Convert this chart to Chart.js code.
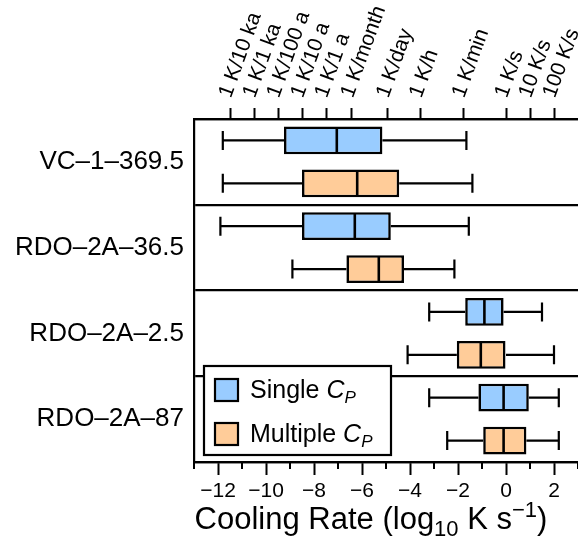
<!DOCTYPE html>
<html lang="en">
<head>
  <meta charset="UTF-8" />
  <title>Cooling Rate Box Plot</title>
  <script src="https://cdn.jsdelivr.net/npm/chart.js@4.4.0/dist/chart.umd.min.js"></script>
  <style>
    html, body { margin: 0; padding: 0; background: #fff; }
    #wrap { width: 578px; height: 558px; }
  </style>
</head>
<body>
  <div id="wrap"><canvas id="coolingChart"></canvas></div>
  <script>
    const FONT = 'Helvetica, "Liberation Sans", Arial, sans-serif';

    // samples (top to bottom)
    const categories = ['VC–1–369.5', 'RDO–2A–36.5', 'RDO–2A–2.5', 'RDO–2A–87'];

    // single Cp fits: whisker ends, quartiles, median (log10 K/s)
    const singleMin = [-11.8, -11.9, -3.2, -3.2];
    const singleQ1 = [-9.25, -8.5, -1.7, -1.15];
    const singleMed = [-7.05, -6.3, -0.9, -0.1];
    const singleQ3 = [-5.15, -4.8, -0.1, 0.95];
    const singleMax = [-1.65, -1.55, 1.5, 2.2];

    // multiple Cp fits
    const multiMin = [-11.8, -8.9, -4.1, -2.45];
    const multiQ1 = [-8.5, -6.65, -2.05, -0.95];
    const multiMed = [-6.2, -5.3, -1.05, -0.1];
    const multiQ3 = [-4.45, -4.25, 0, 0.85];
    const multiMax = [-1.4, -2.15, 2.0, 2.2];

    // axes
    const xMin = -13, xMax = 3;
    const bottomTicks = [-12, -10, -8, -6, -4, -2, 0, 2];
    const topTickValues = [-11.5, -10.5, -9.5, -8.5, -7.5, -6.42, -4.94, -3.56, -1.78, 0, 1, 2];
    const topTickLabels = ['1 K/10 ka', '1 K/1 ka', '1 K/100 a', '1 K/10 a', '1 K/1 a', '1 K/month',
      '1 K/day', '1 K/h', '1 K/min', '1 K/s', '10 K/s', '100 K/s'];

    const blue = '#99ccff';
    const orange = '#ffcc99';

    function boxData(q1, q3) {
      return categories.map((c, i) => [q1[i], q3[i]]);
    }

    // whiskers + median line on each box
    const whiskerPlugin = {
      id: 'whiskers',
      afterDatasetsDraw(chart) {
        const ctx = chart.ctx;
        const xs = chart.scales.x;
        ctx.save();
        ctx.strokeStyle = '#000';
        chart.data.datasets.forEach((ds, di) => {
          const meta = chart.getDatasetMeta(di);
          meta.data.forEach((bar, i) => {
            const y = bar.y, h = bar.height;
            const lo = xs.getPixelForValue(ds.stats.min[i]);
            const hi = xs.getPixelForValue(ds.stats.max[i]);
            const q1 = xs.getPixelForValue(ds.data[i][0]);
            const q3 = xs.getPixelForValue(ds.data[i][1]);
            const md = xs.getPixelForValue(ds.stats.med[i]);
            const cap = h * 0.34;
            ctx.lineWidth = 2.2;
            ctx.beginPath();
            ctx.moveTo(lo, y); ctx.lineTo(q1, y);
            ctx.moveTo(q3, y); ctx.lineTo(hi, y);
            ctx.moveTo(lo, y - cap); ctx.lineTo(lo, y + cap);
            ctx.moveTo(hi, y - cap); ctx.lineTo(hi, y + cap);
            ctx.stroke();
            ctx.lineWidth = 2.6;
            ctx.beginPath();
            ctx.moveTo(md, y - h / 2 + 1); ctx.lineTo(md, y + h / 2 - 1);
            ctx.stroke();
          });
        });
        ctx.restore();
      }
    };

    // draws runs of text, some as sub/superscripts or italics
    function drawRich(ctx, parts, x, y, align) {
      let total = 0;
      parts.forEach(p => { ctx.font = p.font; total += ctx.measureText(p.t).width; });
      let cx = align === 'center' ? x - total / 2 : x;
      parts.forEach(p => {
        ctx.font = p.font;
        ctx.fillText(p.t, cx, y + (p.dy || 0));
        cx += ctx.measureText(p.t).width;
      });
    }

    // axis title with subscript/superscript
    const axisTitlePlugin = {
      id: 'axisTitle',
      afterDraw(chart) {
        const ctx = chart.ctx;
        const area = chart.chartArea;
        ctx.save();
        ctx.fillStyle = '#000';
        ctx.textBaseline = 'alphabetic';
        ctx.textAlign = 'left';
        drawRich(ctx, [
          { t: 'Cooling Rate (log', font: '31px ' + FONT },
          { t: '10', font: '22px ' + FONT, dy: 7 },
          { t: ' K s', font: '31px ' + FONT },
          { t: '−1', font: '22px ' + FONT, dy: -12 },
          { t: ')', font: '31px ' + FONT }
        ], (area.left + area.right) / 2 - 15, area.bottom + 67, 'center');
        ctx.restore();
      }
    };

    // minor ticks on the bottom axis at odd integers
    const minorTickPlugin = {
      id: 'minorTicks',
      afterDraw(chart) {
        const ctx = chart.ctx;
        const xs = chart.scales.x;
        const yb = chart.chartArea.bottom;
        ctx.save();
        ctx.strokeStyle = '#000';
        ctx.lineWidth = 2;
        ctx.beginPath();
        for (let v = Math.ceil(xs.min); v <= xs.max; v++) {
          if (bottomTicks.includes(v)) continue;
          const px = Math.round(xs.getPixelForValue(v));
          ctx.moveTo(px, yb); ctx.lineTo(px, yb + 7);
        }
        ctx.stroke();
        ctx.restore();
      }
    };

    // legend box in the lower left of the plot
    const legendPlugin = {
      id: 'boxLegend',
      afterDraw(chart) {
        const ctx = chart.ctx;
        const area = chart.chartArea;
        const bx = area.left + 10, by = area.bottom - 96, bw = 187, bh = 89;
        ctx.save();
        ctx.fillStyle = '#fff';
        ctx.fillRect(bx, by, bw, bh);
        ctx.strokeStyle = '#000';
        ctx.lineWidth = 2.2;
        ctx.strokeRect(bx, by, bw, bh);
        chart.data.datasets.forEach((ds, i) => {
          const ry = by + 13 + i * 44;
          ctx.fillStyle = ds.backgroundColor;
          ctx.fillRect(bx + 11, ry, 23, 22);
          ctx.strokeRect(bx + 11, ry, 23, 22);
          ctx.fillStyle = '#000';
          ctx.textAlign = 'left';
          ctx.textBaseline = 'alphabetic';
          drawRich(ctx, [
            { t: ds.label + ' ', font: '25px ' + FONT },
            { t: 'C', font: 'italic 25px ' + FONT },
            { t: 'P', font: 'italic 17px ' + FONT, dy: 5 }
          ], bx + 46, ry + 19, 'left');
        });
        ctx.restore();
      }
    };

    new Chart(document.getElementById('coolingChart'), {
      type: 'bar',
      data: {
        labels: categories,
        datasets: [
          {
            label: 'Single',
            data: boxData(singleQ1, singleQ3),
            stats: { min: singleMin, med: singleMed, max: singleMax },
            backgroundColor: blue,
            borderColor: '#000',
            borderWidth: 2.6,
            borderSkipped: false
          },
          {
            label: 'Multiple',
            data: boxData(multiQ1, multiQ3),
            stats: { min: multiMin, med: multiMed, max: multiMax },
            backgroundColor: orange,
            borderColor: '#000',
            borderWidth: 2.6,
            borderSkipped: false
          }
        ]
      },
      options: {
        indexAxis: 'y',
        responsive: true,
        maintainAspectRatio: false,
        animation: false,
        categoryPercentage: 1.0,
        barPercentage: 0.65,
        layout: { padding: 0 },
        plugins: {
          legend: { display: false },
          tooltip: { enabled: false }
        },
        scales: {
          x: {
            type: 'linear',
            position: 'bottom',
            min: xMin,
            max: xMax,
            afterBuildTicks: s => { s.ticks = bottomTicks.map(v => ({ value: v })); },
            afterFit: s => { s.height = 96; s.paddingLeft = 0; s.paddingRight = 0; },
            ticks: {
              color: '#000',
              padding: 4,
              font: { family: FONT, size: 21 },
              callback: v => (v < 0 ? '−' + Math.abs(v) : String(v))
            },
            grid: { drawOnChartArea: false, drawTicks: true, tickLength: 13, tickWidth: 2, tickColor: '#000' },
            border: { color: '#000', width: 2.2 }
          },
          xTop: {
            type: 'linear',
            position: 'top',
            min: xMin,
            max: xMax,
            afterBuildTicks: s => { s.ticks = topTickValues.map(v => ({ value: v })); },
            afterFit: s => { s.height = 119; s.paddingLeft = 0; s.paddingRight = 0; },
            ticks: {
              color: '#000',
              padding: 7,
              labelOffset: 19,
              autoSkip: false,
              minRotation: 70,
              maxRotation: 70,
              font: { family: FONT, size: 21 },
              callback: (v, i) => topTickLabels[i]
            },
            grid: { drawOnChartArea: false, drawTicks: true, tickLength: 11, tickWidth: 2, tickColor: '#000' },
            border: { color: '#000', width: 2.2 }
          },
          y: {
            type: 'category',
            offset: true,
            afterFit: s => { s.width = 194; s.paddingTop = 0; s.paddingBottom = 0; },
            ticks: {
              color: '#000',
              padding: 10,
              font: { family: FONT, size: 26 }
            },
            grid: { offset: true, color: '#000', lineWidth: 2.2, drawTicks: false },
            border: { color: '#000', width: 2.2 }
          }
        }
      },
      plugins: [whiskerPlugin, minorTickPlugin, legendPlugin, axisTitlePlugin]
    });
  </script>
</body>
</html>
